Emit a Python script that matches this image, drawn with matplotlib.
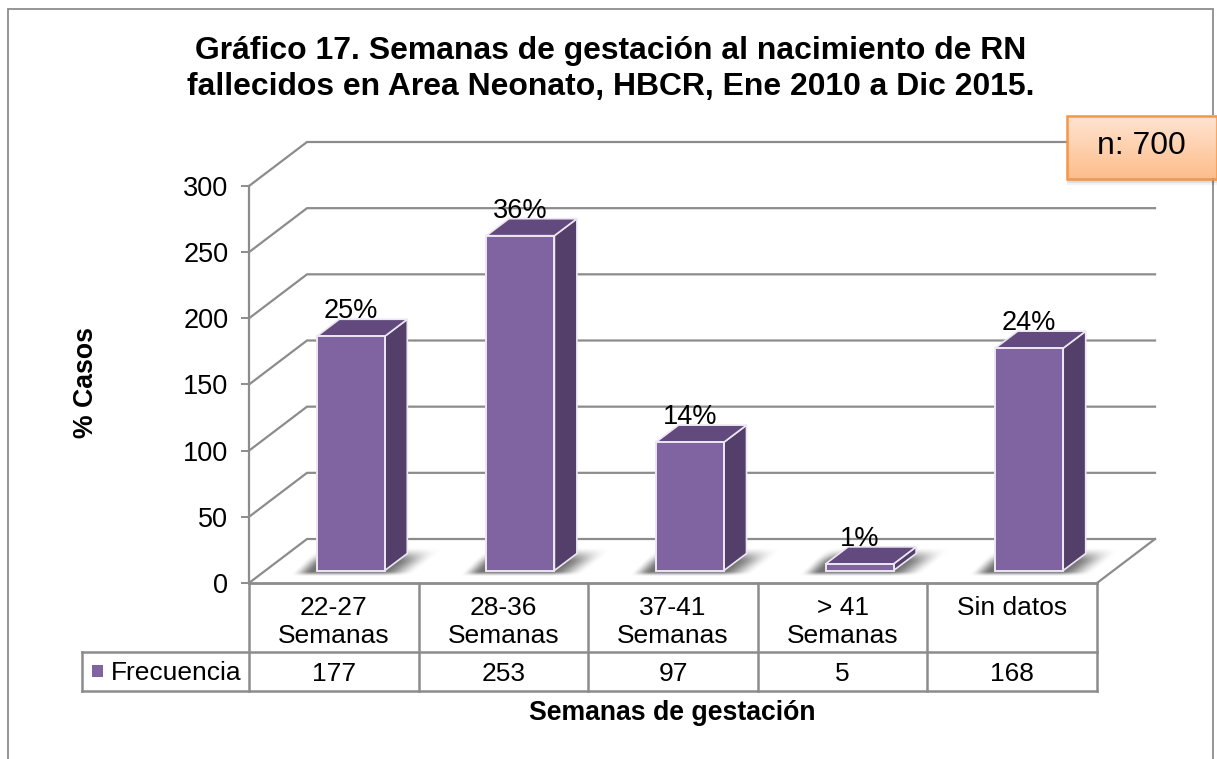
import numpy as np
import matplotlib
matplotlib.use("Agg")
import matplotlib.pyplot as plt
from matplotlib.patches import Polygon, Rectangle
from matplotlib.transforms import blended_transform_factory

# ---- data ----
categories = ["22-27\nSemanas", "28-36\nSemanas", "37-41\nSemanas", "> 41\nSemanas", "Sin datos\n"]
frecuencia = [177, 253, 97, 5, 168]
porcentajes = ["25%", "36%", "14%", "1%", "24%"]
y_ticks = [0, 50, 100, 150, 200, 250, 300]

title = "Gráfico 17. Semanas de gestación al nacimiento de RN\nfallecidos en Area Neonato, HBCR, Ene 2010 a Dic 2015."
series_name = "Frecuencia"
x_title = "Semanas de gestación"
y_title = "% Casos"
note = "n: 700"

# ---- style / layout ----
W, H = 1217, 759
GRID = "#8c8c8c"
FRAME = "#8c8c8c"
FRONT = "#8063a1"
TOP = "#624a7e"
SIDE = "#543f6b"
EDGE = "#ece7f2"
plt.rcParams["font.family"] = ["Liberation Sans", "DejaVu Sans"]

fig = plt.figure(figsize=(W / 100, H / 100), dpi=100, facecolor="white")

bg = fig.add_axes([0, 0, 1, 1], zorder=0)
bg.set_xlim(0, W)
bg.set_ylim(H, 0)
bg.axis("off")

AX_L, AX_R, AX_T, AX_B = 249, 1097, 186, 583
ax = fig.add_axes([AX_L / W, 1 - AX_B / H, (AX_R - AX_L) / W, (AX_B - AX_T) / H], zorder=1)
ax.patch.set_alpha(0)
ax.set_xlim(0, len(categories))
ax.set_ylim(0, 300)

px_x = len(categories) / (AX_R - AX_L)
px_y = 300 / (AX_B - AX_T)
wall_dx, wall_dy = 58 * px_x, 44 * px_y
bar_dx, bar_dy = 22.5 * px_x, 17 * px_y
bar_shift = 17 * px_x
bar_lift = 12.5 * px_y
bar_w = 68 * px_x
x = np.arange(len(categories)) + 0.5

bg.plot([7.5, 7.5, 1212.5, 1212.5], [H, 8.5, 8.5, H], color=FRAME, lw=1.3, solid_joinstyle="miter")

for t in y_ticks:
    ax.plot([0, wall_dx, len(categories) + wall_dx], [t, t + wall_dy, t + wall_dy],
            color=GRID, lw=1.6, clip_on=False, zorder=1, solid_joinstyle="miter")
ax.plot([len(categories), len(categories) + wall_dx], [0, wall_dy], color=GRID, lw=1.6,
        clip_on=False, zorder=1)

yy, xx = np.mgrid[0:H, 0:W]
def smooth(v, a, b):
    t = np.clip((v - a) / (b - a), 0, 1)
    return t * t * (3 - 2 * t)
shadow = fig.add_axes([0, 0, 1, 1], zorder=1.5)
shadow.patch.set_alpha(0)
shadow.axis("off")
for xc, v in zip(x, frecuencia):
    x0 = AX_L + (xc + bar_shift - bar_w / 2) / px_x
    x1 = x0 + bar_w / px_x
    yf = AX_B - bar_lift / px_y
    d = yf - yy
    a = (smooth(xx - d * 1.0, x0 - 24, x0 - 4)
         * (1 - smooth(xx - d * 22 / 17, x1 - 2, x1 + 32))
         * smooth(d, -5.5, 0) * (1 - smooth(d, 8, 24)))
    ys, xs = np.where(a > 0.004)
    y0_, y1_, x0_, x1_ = ys.min(), ys.max() + 1, xs.min(), xs.max() + 1
    rgba = np.zeros((y1_ - y0_, x1_ - x0_, 4))
    rgba[..., :3] = 0.42
    rgba[..., 3] = a[y0_:y1_, x0_:x1_] * 0.95
    shadow.imshow(rgba, extent=(x0_, x1_, y1_, y0_), aspect="auto", interpolation="bilinear")
shadow.set_xlim(0, W)
shadow.set_ylim(H, 0)
bars_ax = fig.add_axes(ax.get_position(), zorder=2, sharex=ax, sharey=ax)
bars_ax.patch.set_alpha(0)
bars_ax.axis("off")

bars = bars_ax.bar(x + bar_shift, frecuencia, width=bar_w, bottom=bar_lift, color=FRONT,
                   edgecolor=EDGE, linewidth=1.4, zorder=4, clip_on=False)
for lbl, rect in zip(porcentajes, bars):
    l, r = rect.get_x(), rect.get_x() + rect.get_width()
    b, t = rect.get_y(), rect.get_y() + rect.get_height()
    bars_ax.add_patch(Polygon([(r, b), (r + bar_dx, b + bar_dy), (r + bar_dx, t + bar_dy), (r, t)],
                              facecolor=SIDE, edgecolor=EDGE, lw=1.2, zorder=3.5, clip_on=False))
    bars_ax.add_patch(Polygon([(l, t), (r, t), (r + bar_dx, t + bar_dy), (l + bar_dx, t + bar_dy)],
                              facecolor=TOP, edgecolor=EDGE, lw=1.2, zorder=3.5, clip_on=False))
    bars_ax.annotate(lbl, ((l + r) / 2, t), xytext=(0, 25),
                     textcoords="offset pixels", ha="center", va="center", fontsize=19.5,
                     color="black", zorder=6, annotation_clip=False)

for s in ("top", "right", "bottom"):
    ax.spines[s].set_visible(False)
ax.spines["left"].set_color(GRID)
ax.spines["left"].set_linewidth(1.6)
ax.set_yticks(y_ticks)
ax.tick_params(axis="y", length=5.8, width=1.4, color=GRID, labelsize=19.5, pad=9)
ax.set_xticks(x, categories, linespacing=1.2)
ax.tick_params(axis="x", length=0, labelsize=19, pad=9.5)
for lab in ax.get_xticklabels():
    lab.set_va("top")

TBL_M, TBL_B, KEY_L = 651.5, 690.5, 82
bg.plot([AX_L, AX_R], [AX_B, AX_B], color=GRID, lw=2, zorder=2)
for ypos in (TBL_M, TBL_B):
    bg.plot([KEY_L, AX_R], [ypos, ypos], color=GRID, lw=1.8, zorder=2)
for i in range(len(categories) + 1):
    xp = AX_L + i * (AX_R - AX_L) / len(categories)
    bg.plot([xp, xp], [AX_B, TBL_B], color=GRID, lw=1.8, zorder=2)
bg.plot([KEY_L, KEY_L], [TBL_M, TBL_B], color=GRID, lw=1.8, zorder=2)
bg.add_patch(Rectangle((91.5, 665), 11.5, 11.5, facecolor=FRONT, edgecolor="none", zorder=2))
bg.text(111, 671, series_name, fontsize=19, ha="left", va="center_baseline")
tr = blended_transform_factory(ax.transData, bg.transData)
for xc, v in zip(x, frecuencia):
    ax.text(xc, 671.5, str(v), transform=tr, fontsize=19, ha="center", va="center_baseline", clip_on=False)

bg.text(611, 69, title, fontsize=22.95, fontweight="bold", ha="center", va="center", linespacing=1.27)
bg.text(672, 712.5, x_title, fontsize=19.2, fontweight="bold", ha="center", va="center")
bg.text(86, 383, y_title, fontsize=19.2, fontweight="bold", rotation=90, ha="center", va="center")

bx0, bx1, by0, by1 = 1066.5, 1216.5, 115.5, 178.5
for k, al in ((6, 0.05), (4, 0.08), (2, 0.12)):
    fig.add_artist(Rectangle((bx0 / W, 1 - (by1 + k) / H), (bx1 - bx0 + k) / W, (by1 - by0) / H,
                             transform=fig.transFigure, facecolor="black", alpha=al, edgecolor="none", zorder=7))
top_c = np.array([0xFF, 0xE4, 0xD3]) / 255
bot_c = np.array([0xFD, 0xBE, 0x8C]) / 255
f = np.linspace(0, 1, 64)[:, None]
grad = (top_c[None, :] * (1 - f) + bot_c[None, :] * f)[:, None, :]
ov = fig.add_axes([0, 0, 1, 1], zorder=8)
ov.axis("off")
ov.imshow(grad, extent=(bx0, bx1, by1, by0), aspect="auto", zorder=1)
ov.set_xlim(0, W)
ov.set_ylim(H, 0)
ov.add_patch(Rectangle((bx0, by0), bx1 - bx0, by1 - by0, facecolor="none", edgecolor="#F79646", lw=1.8, zorder=2))
ov.text((bx0 + bx1) / 2 - 0.5, 146.5, note, fontsize=23, ha="center", va="center", zorder=3)

fig.savefig("out.png", dpi=100)
